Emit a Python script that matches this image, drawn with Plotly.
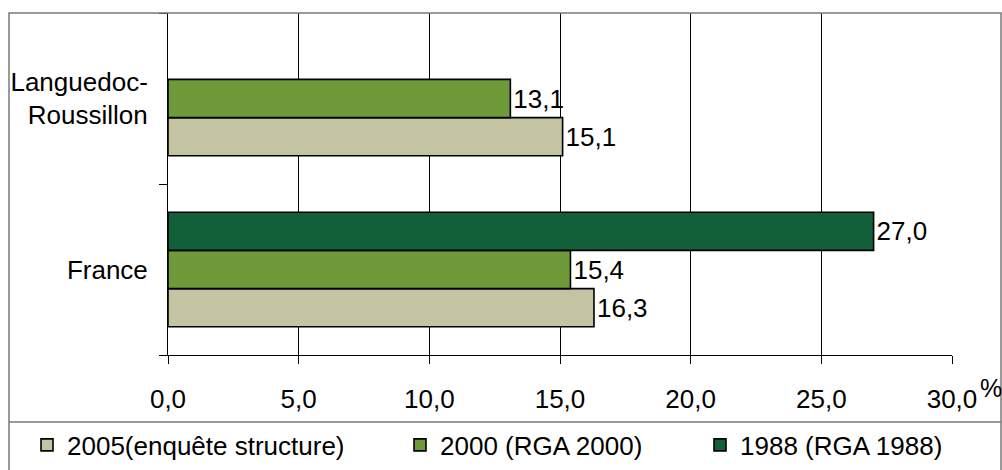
import plotly.graph_objects as go

categories = ["France", "Languedoc-<br>Roussillon"]
series_names = ["2005(enquête structure)", "2000 (RGA 2000)", "1988 (RGA 1988)"]
v2005 = [16.3, 15.1]
v2000 = [15.4, 13.1]
v1988 = [27.0, None]
x_ticks = [0, 5, 10, 15, 20, 25, 30]

colors = ["#C4C3A2", "#6E9A3A", "#12603A"]
FONT = "Liberation Sans, Arial, sans-serif"

W, H = 1002, 470
L, R, T, B = 168, 50, 13, 115

legend_ids = ["legend", "legend2", "legend3"]
legend_x_px = [27, 400, 700]

fig = go.Figure()
for name, vals, col, lg in zip(series_names, [v2005, v2000, v1988], colors, legend_ids):
    fig.add_trace(go.Bar(
        y=categories, x=vals, name=name, orientation="h",
        marker=dict(color=col, line=dict(color="#000000", width=1.6)),
        texttemplate="%{x:.1f}", textposition="outside",
        textfont=dict(family=FONT, size=26, color="#000"),
        constraintext="none", cliponaxis=False, legend=lg,
    ))

pw = W - L - R
ph = H - T - B
def px_x(px):
    return (px - L) / pw
def px_y(py):
    return (H - B - py) / ph

shapes = [
    dict(type="rect", xref="paper", yref="paper",
         x0=px_x(9), x1=px_x(1001), y0=px_y(480), y1=px_y(13),
         line=dict(color="#7a7a7a", width=1.5), layer="above"),
    dict(type="line", xref="paper", yref="paper",
         x0=px_x(9), x1=px_x(1001), y0=px_y(422), y1=px_y(422),
         line=dict(color="#7a7a7a", width=1.5), layer="above"),
]

legend_common = dict(orientation="h", xref="container", yref="container",
                     xanchor="left", yanchor="middle",
                     font=dict(family=FONT, size=26, color="#000"),
                     bgcolor="rgba(0,0,0,0)", borderwidth=0)

layout_legends = {}
for lg, xp in zip(legend_ids, legend_x_px):
    layout_legends[lg] = dict(legend_common, x=xp / W, y=1 - 445 / H)

fig.update_layout(
    width=W, height=H,
    margin=dict(l=L, r=R, t=T, b=B, autoexpand=False),
    paper_bgcolor="#ffffff", plot_bgcolor="#ffffff",
    barmode="group", bargap=0.33, bargroupgap=0,
    separators=", ",
    font=dict(family=FONT, size=26, color="#000"),
    shapes=shapes,
    showlegend=True,
    xaxis=dict(range=[0, 30], tickvals=x_ticks, tickformat=".1f",
               showgrid=True, gridcolor="#000000", gridwidth=1,
               showline=True, linecolor="#000000", linewidth=1,
               ticks="outside", ticklen=8, tickcolor="#000", tickwidth=1,
               ticklabelstandoff=13, zeroline=False, automargin=False,
               tickfont=dict(family=FONT, size=26, color="#000")),
    yaxis=dict(showgrid=False, showline=True, linecolor="#000000", linewidth=1,
               ticks="outside", ticklen=8, tickcolor="#000", tickson="boundaries",
               ticklabelstandoff=14, automargin=False,
               tickfont=dict(family=FONT, size=26, color="#000")),
    annotations=[dict(text="%", xref="paper", yref="paper",
                      x=px_x(991), y=px_y(388), xanchor="center", yanchor="middle",
                      showarrow=False,
                      font=dict(family=FONT, size=25, color="#000"))],
    **layout_legends,
)

fig.write_html("out.html")
